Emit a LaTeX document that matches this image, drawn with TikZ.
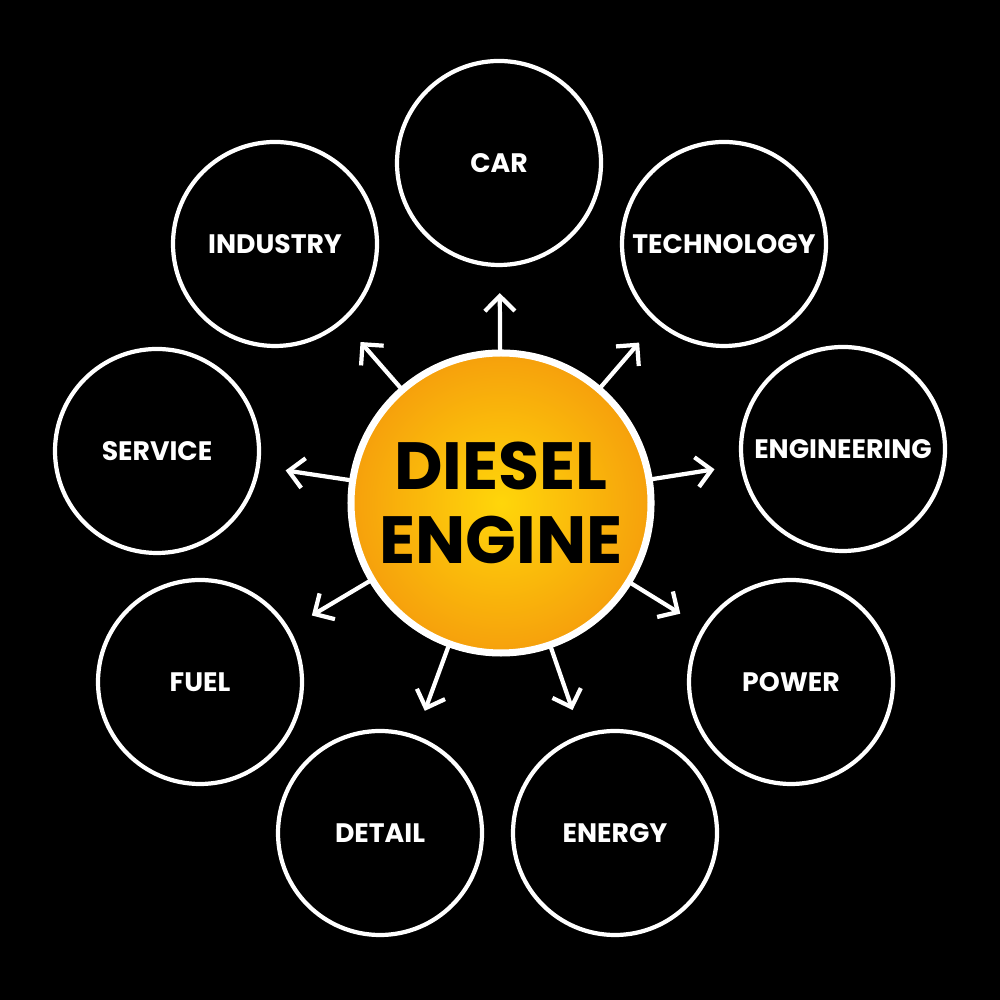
\documentclass[tikz,border=0pt]{standalone}
\usepackage{fontspec}
\setmainfont{Poppins}
\definecolor{dzyellow}{HTML}{FFD60A}
\definecolor{dzorange}{HTML}{F6A00C}
\usepackage{tikz}
\usetikzlibrary{arrows.meta, positioning}
\usepackage{xcolor}

\begin{document}
\begin{tikzpicture}[
  every node/.style={font=\bfseries, align=center},
  topic/.style={circle, draw=white, line width=1.2pt, fill=black, minimum size=2.04cm,
                inner sep=0pt, text=white, font=\fontsize{7.6}{9}\selectfont\bfseries},
  hub/.style={circle, draw=white, line width=2pt, minimum size=3.0cm, inner sep=0pt,
              inner color=dzyellow, outer color=dzorange,
              font=\fontsize{19}{21}\selectfont\bfseries},
  spoke/.style={-{Straight Barb[length=1.5mm, width=3mm]}, white, line width=1.2pt,
                line cap=round, shorten >=0.26cm},
]
  % Background
  \fill[black] (0,0) rectangle (10,10);

  % Centre
  \node[hub] (diesel) at (5.01,4.97) {DIESEL\\ENGINE};

  % Ring of topics
  \node[topic] (car) at (4.99,8.37) {CAR};
  \node[topic] (tech) at (7.24,7.56) {TECHNOLOGY};
  \node[topic] (eng) at (8.43,5.51) {ENGINEERING};
  \node[topic] (pwr) at (7.91,3.18) {POWER};
  \node[topic] (nrg) at (6.15,1.67) {ENERGY};
  \node[topic] (det) at (3.80,1.67) {DETAIL};
  \node[topic] (fuel) at (2.00,3.18) {FUEL};
  \node[topic] (svc) at (1.57,5.49) {SERVICE};
  \node[topic] (ind) at (2.75,7.56) {INDUSTRY};

  % Arrows
  \draw[spoke] (diesel) -- (car);
  \draw[spoke] (diesel) -- (tech);
  \draw[spoke] (diesel) -- (eng);
  \draw[spoke] (diesel) -- (pwr);
  \draw[spoke] (diesel) -- (nrg);
  \draw[spoke] (diesel) -- (det);
  \draw[spoke] (diesel) -- (fuel);
  \draw[spoke] (diesel) -- (svc);
  \draw[spoke] (diesel) -- (ind);
\end{tikzpicture}
\end{document}
